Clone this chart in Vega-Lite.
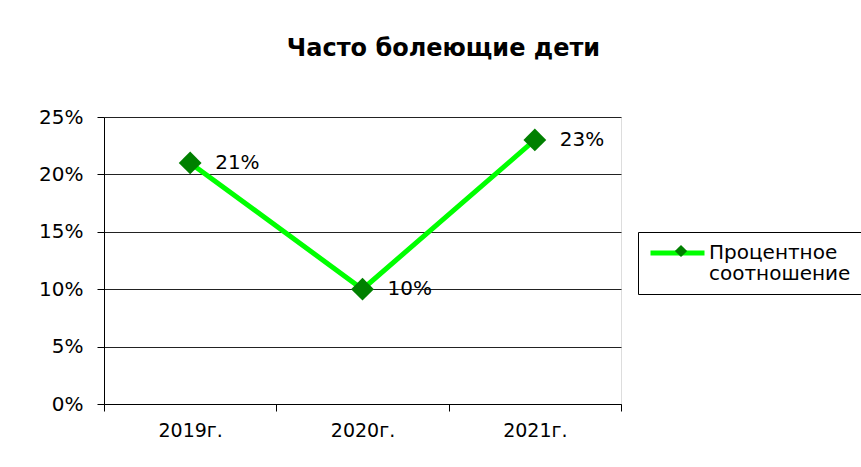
{
  "$schema": "https://vega.github.io/schema/vega-lite/v6.json",
  "width": 517,
  "height": 287,
  "autosize": {"type": "none"},
  "padding": {"left": 104, "top": 117, "right": 240, "bottom": 63},
  "background": "white",
  "title": {
    "text": "Часто болеющие дети",
    "font": "DejaVu Sans",
    "fontSize": 24,
    "fontWeight": "bold",
    "color": "black",
    "anchor": "middle",
    "dx": 81,
    "baseline": "alphabetic",
    "offset": 27
  },
  "data": {
    "values": [
      {"year": 2019, "value": 0.21},
      {"year": 2020, "value": 0.10},
      {"year": 2021, "value": 0.23}
    ]
  },
  "encoding": {
    "x": {
      "field": "year",
      "type": "quantitative",
      "scale": {"domain": [2018.5, 2021.5], "nice": false, "zero": false},
      "axis": {
        "values": [2018.5, 2019, 2019.5, 2020, 2020.5, 2021, 2021.5],
        "labelExpr": "datum.value % 1 == 0 ? datum.value + 'г.' : ''",
        "tickOpacity": {"condition": {"test": "datum.value % 1 == 0", "value": 0}, "value": 1},
        "grid": false,
        "title": null,
        "domainColor": "black",
        "tickColor": "black",
        "tickSize": 7,
        "labelFont": "DejaVu Sans",
        "labelFontSize": 19,
        "labelColor": "black",
        "labelPadding": 10,
        "labelFlush": false,
        "labelOverlap": false
      }
    },
    "y": {
      "field": "value",
      "type": "quantitative",
      "scale": {"domain": [0, 0.25], "nice": false},
      "axis": {
        "values": [0, 0.05, 0.1, 0.15, 0.2, 0.25],
        "format": ".0%",
        "title": null,
        "grid": true,
        "gridColor": "#222222",
        "gridWidth": 1,
        "domainColor": "black",
        "tickColor": "black",
        "tickSize": 7,
        "labelFont": "DejaVu Sans",
        "labelFontSize": 20,
        "labelColor": "black",
        "labelPadding": 14
      }
    }
  },
  "layer": [
    {
      "mark": {"type": "line", "strokeWidth": 5},
      "encoding": {
        "stroke": {
          "datum": "Процентное соотношение",
          "type": "nominal",
          "scale": {"range": ["#00ff00"]},
          "legend": {
            "orient": "none",
            "legendX": 534,
            "legendY": 115,
            "title": null,
            "strokeColor": "black",
            "padding": 10,
            "clipHeight": 22,
            "symbolType": "stroke",
            "symbolSize": 2916,
            "symbolStrokeWidth": 5,
            "symbolStrokeColor": "#00ff00",
            "labelFont": "DejaVu Sans",
            "labelFontSize": 20,
            "labelColor": "black",
            "labelExpr": "split(datum.label, ' ')",
            "labelBaseline": "middle",
            "labelOffset": 2,
            "zindex": 0,
            "encode": {"labels": {"update": {"lineHeight": {"value": 21}}}}
          }
        }
      }
    },
    {
      "mark": {"type": "point", "filled": true, "opacity": 1, "size": 520, "color": "#008000"},
      "encoding": {
        "shape": {
          "datum": "marker",
          "type": "nominal",
          "scale": {"range": ["diamond"]},
          "legend": {
            "orient": "none",
            "legendX": 557,
            "legendY": 114,
            "title": null,
            "padding": 13,
            "symbolSize": 150,
            "symbolFillColor": "#008000",
            "symbolStrokeColor": "#008000",
            "symbolOpacity": 1,
            "labelExpr": "''",
            "zindex": 1
          }
        }
      }
    },
    {
      "mark": {"type": "text", "align": "left", "baseline": "middle", "dx": 25, "fontSize": 20, "font": "DejaVu Sans", "color": "black"},
      "encoding": {
        "text": {"field": "value", "type": "quantitative", "format": ".0%"}
      }
    }
  ]
}
